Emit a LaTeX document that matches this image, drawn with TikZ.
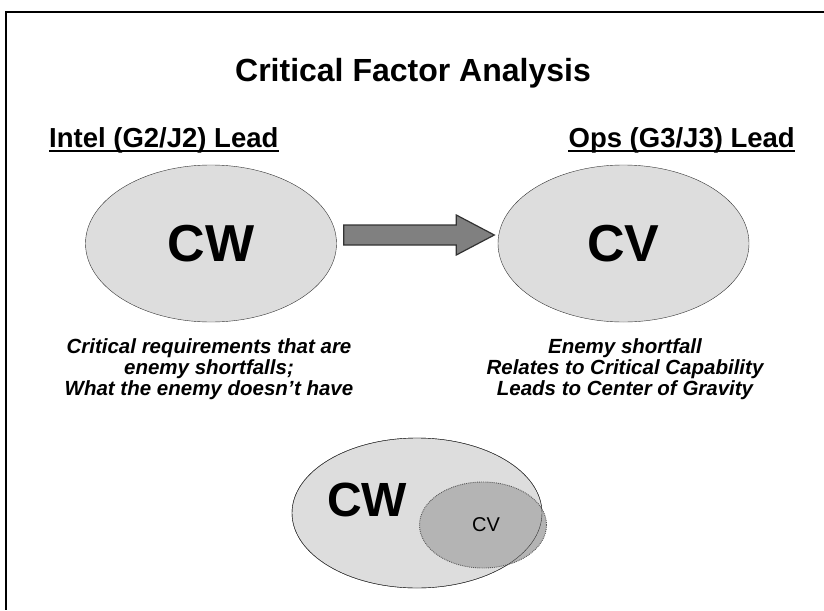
\documentclass[tikz,border=0pt]{standalone}
\usepackage{fontspec}
\setmainfont{Liberation Sans}
\usetikzlibrary{shapes.geometric,calc}
\definecolor{ellfill}{HTML}{DDDDDD}
\definecolor{cvfill}{HTML}{B4B4B4}
\definecolor{arrfill}{HTML}{808080}
\begin{document}
\begin{tikzpicture}[
	x=1pt, y=-1pt,
	e/.style = {ellipse, draw=black!80, fill=ellfill, inner sep=0pt, minimum width=251, minimum height=157, font=\fontsize{52}{52}\selectfont\bfseries},
	head/.style = {inner sep=0pt, font=\fontsize{27.5}{27.5}\selectfont\bfseries},
	txt/.style = {inner sep=0pt, align=center, font=\fontsize{20.5}{21}\selectfont\bfseries\itshape},
	ul/.style = {line width=2pt},
	blk/.style = {draw=black!80, fill=arrfill, line width=1.2pt, line join=miter}
	]
	
	\useasboundingbox (0,0) rectangle (824,610);
	\draw[line width=2.5pt] (824,12) -- (6,12) -- (6,610);
	
	%Nodes
	\node[inner sep=0pt, font=\fontsize{32}{32}\selectfont\bfseries]	(title)	at	(413,73)	{Critical Factor Analysis};
	\node[head, anchor=base west]	(intel)	at	(49,147)	{Intel (G2/J2) Lead};
	\node[head, anchor=base east]	(ops)	at	(795,147)	{Ops (G3/J3) Lead};
	\node[e]	(cw)	at	(211,243.5)	{CW};
	\node[e]	(cv)	at	(623.5,243.5)	{CV};
	\node[txt, anchor=north]	(cw-txt)	at	(209,338)	{Critical requirements that are\\enemy shortfalls;\\What the enemy doesn’t have};
	\node[txt, anchor=north]	(cv-txt)	at	(625,338)	{Enemy shortfall\\Relates to Critical Capability\\Leads to Center of Gravity};
	\node[ellipse, draw=black!80, fill=ellfill, minimum width=250, minimum height=150]	(big)	at	(417,513)	{};
	\node[ellipse, draw=black!65, densely dotted, line width=0.9pt, fill=cvfill, minimum width=127, minimum height=86]	(small)	at	(483,525)	{};
	\node[inner sep=0pt, font=\fontsize{48}{48}\selectfont\bfseries]	(big-l)	at	(367,500)	{CW};
	\node[inner sep=0pt, font=\fontsize{20}{20}\selectfont]	(small-l)	at	(486,525)	{CV};
	
	%Lines
	\draw[black!80]	(big.center)	ellipse	[x radius=125, y radius=75];
	\draw[ul]	($(intel.base west)+(0,3.5)$)	--	($(intel.base east)+(0,3.5)$);
	\draw[ul]	($(ops.base west)+(0,3.5)$)	--	($(ops.base east)+(0,3.5)$);
	\coordinate	(a-s)	at	($(cw.east)+(7,-8.5)$);
	\coordinate	(a-t)	at	($(cv.west)+(-3.5,-8.5)$);
	\draw[blk]	($(a-s)+(0,-10)$) -- ($(a-t)+(-38,-10)$) -- ($(a-t)+(-38,-20)$) -- (a-t)
		-- ($(a-t)+(-38,20)$) -- ($(a-t)+(-38,10)$) -- ($(a-s)+(0,10)$) -- cycle;
	
\end{tikzpicture}
\end{document}
